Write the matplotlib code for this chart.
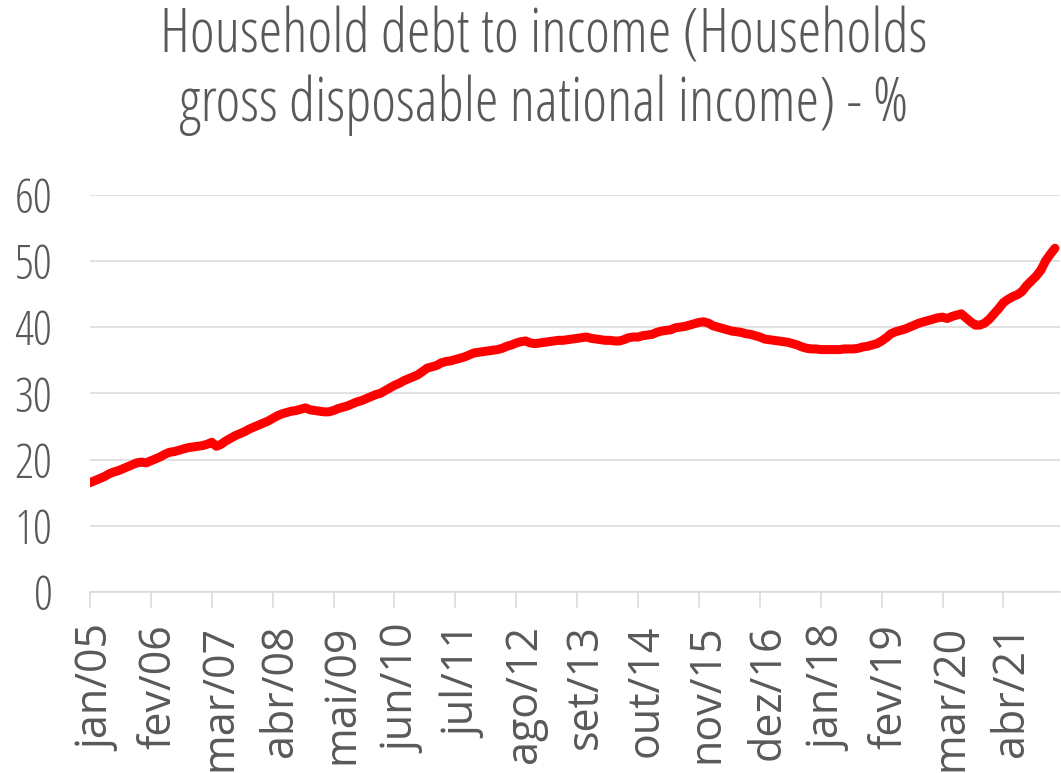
import numpy as np
import matplotlib
matplotlib.use("Agg")
import matplotlib.pyplot as plt
from matplotlib import font_manager as fm
from matplotlib.transforms import ScaledTranslation

# Household debt to income (%), monthly from jan/05 to mar/22
values_2005 = [16.5, 16.8, 17.1, 17.4, 17.8, 18.1, 18.3, 18.6, 18.9, 19.2, 19.5, 19.6]
values_2006 = [19.5, 19.8, 20.1, 20.4, 20.8, 21.1, 21.2, 21.4, 21.6, 21.8, 21.9, 22.0]
values_2007 = [22.1, 22.3, 22.6, 22.0, 22.3, 22.8, 23.2, 23.6, 23.9, 24.2, 24.6, 24.9]
values_2008 = [25.2, 25.5, 25.8, 26.2, 26.6, 26.9, 27.1, 27.3, 27.4, 27.6, 27.8, 27.5]
values_2009 = [27.4, 27.3, 27.2, 27.2, 27.4, 27.7, 27.9, 28.1, 28.4, 28.7, 28.9, 29.2]
values_2010 = [29.5, 29.8, 30.0, 30.4, 30.8, 31.2, 31.5, 31.9, 32.2, 32.5, 32.8, 33.3]
values_2011 = [33.8, 34.0, 34.2, 34.6, 34.8, 34.9, 35.1, 35.3, 35.5, 35.8, 36.1, 36.2]
values_2012 = [36.3, 36.4, 36.5, 36.6, 36.8, 37.1, 37.3, 37.6, 37.8, 37.9, 37.6, 37.5]
values_2013 = [37.6, 37.7, 37.8, 37.9, 38.0, 38.0, 38.1, 38.2, 38.3, 38.4, 38.5, 38.3]
values_2014 = [38.2, 38.1, 38.0, 38.0, 37.9, 37.9, 38.1, 38.4, 38.5, 38.5, 38.7, 38.8]
values_2015 = [38.9, 39.2, 39.4, 39.5, 39.6, 39.9, 40.0, 40.1, 40.3, 40.5, 40.7, 40.8]
values_2016 = [40.6, 40.2, 40.0, 39.8, 39.6, 39.4, 39.3, 39.2, 39.0, 38.9, 38.7, 38.5]
values_2017 = [38.2, 38.1, 38.0, 37.9, 37.8, 37.7, 37.5, 37.3, 37.0, 36.8, 36.7, 36.7]
values_2018 = [36.6, 36.6, 36.6, 36.6, 36.6, 36.7, 36.7, 36.7, 36.8, 37.0, 37.1, 37.3]
values_2019 = [37.5, 37.9, 38.4, 39.0, 39.3, 39.5, 39.7, 40.0, 40.3, 40.6, 40.8, 41.0]
values_2020 = [41.2, 41.4, 41.5, 41.3, 41.6, 41.8, 42.0, 41.4, 40.8, 40.3, 40.3, 40.6]
values_2021 = [41.2, 42.0, 42.8, 43.7, 44.2, 44.6, 44.9, 45.4, 46.3, 47.0, 47.7, 48.6]
values_2022 = [50.0, 51.0, 51.9]

values = (values_2005 + values_2006 + values_2007 + values_2008 + values_2009 +
          values_2010 + values_2011 + values_2012 + values_2013 + values_2014 +
          values_2015 + values_2016 + values_2017 + values_2018 + values_2019 +
          values_2020 + values_2021 + values_2022)

tick_labels = ['jan/05', 'fev/06', 'mar/07', 'abr/08', 'mai/09', 'jun/10', 'jul/11',
               'ago/12', 'set/13', 'out/14', 'nov/15', 'dez/16', 'jan/18', 'fev/19',
               'mar/20', 'abr/21']
y_ticks = [0, 10, 20, 30, 40, 50, 60]

title_line1 = "Household debt to income (Households"
title_line2 = "gross disposable national income) - %"

GREY = '#595959'
GRID = '#d9d9d9'


def find_font(name, weight, stretch):
    for f in fm.fontManager.ttflist:
        if f.name == name and f.weight == weight and f.stretch == stretch and f.style == 'normal':
            return f.fname
    return None


cond_file = find_font('Open Sans', 300, 'condensed')
if cond_file:
    def cond(size):
        return fm.FontProperties(fname=cond_file, size=size)
else:
    def cond(size):
        return fm.FontProperties(family=['Open Sans', 'DejaVu Sans'], weight='light',
                                 stretch='condensed', size=size * 0.75)

xfont = fm.FontProperties(family=['Open Sans', 'DejaVu Sans'], weight='normal', size=31)

fig = plt.figure(figsize=(10.61, 7.73), dpi=100)
ax = fig.add_axes([0.0848, 0.2342, 0.9139, 0.5140])

x = np.arange(len(values))
ax.plot(x, values, color='#ff0000', lw=6.5, solid_capstyle='round',
        solid_joinstyle='round', zorder=3)

ax.set_xlim(0, 207)
ax.set_ylim(0, 60)
ax.set_yticks(y_ticks)
ax.set_yticklabels([str(v) for v in y_ticks], fontproperties=cond(34), color=GREY)
ax.tick_params(axis='y', length=0, pad=27)

ax.set_xticks(np.arange(len(tick_labels)) * 13)
ax.set_xticklabels(tick_labels, rotation=90, fontproperties=xfont, color=GREY,
                   ha='center', va='top')
ax.tick_params(axis='x', length=11.5, width=1.1, color=GRID, pad=12)
shift = ScaledTranslation(6 / 72, 0, fig.dpi_scale_trans)
for lab in ax.get_xticklabels():
    lab.set_transform(lab.get_transform() + shift)

ax.grid(axis='y', color=GRID, lw=1.1, zorder=0)
ax.set_axisbelow(True)
for s in ['top', 'right', 'left']:
    ax.spines[s].set_visible(False)
ax.spines['bottom'].set_color(GRID)
ax.spines['bottom'].set_linewidth(1.1)

fig.text(0.512, 1 - 52 / 773, title_line1, ha='center', va='baseline',
         fontproperties=cond(43), color=GREY)
fig.text(0.512, 1 - 121 / 773, title_line2, ha='center', va='baseline',
         fontproperties=cond(43), color=GREY)

fig.savefig('out.png', dpi=100, facecolor='white')
